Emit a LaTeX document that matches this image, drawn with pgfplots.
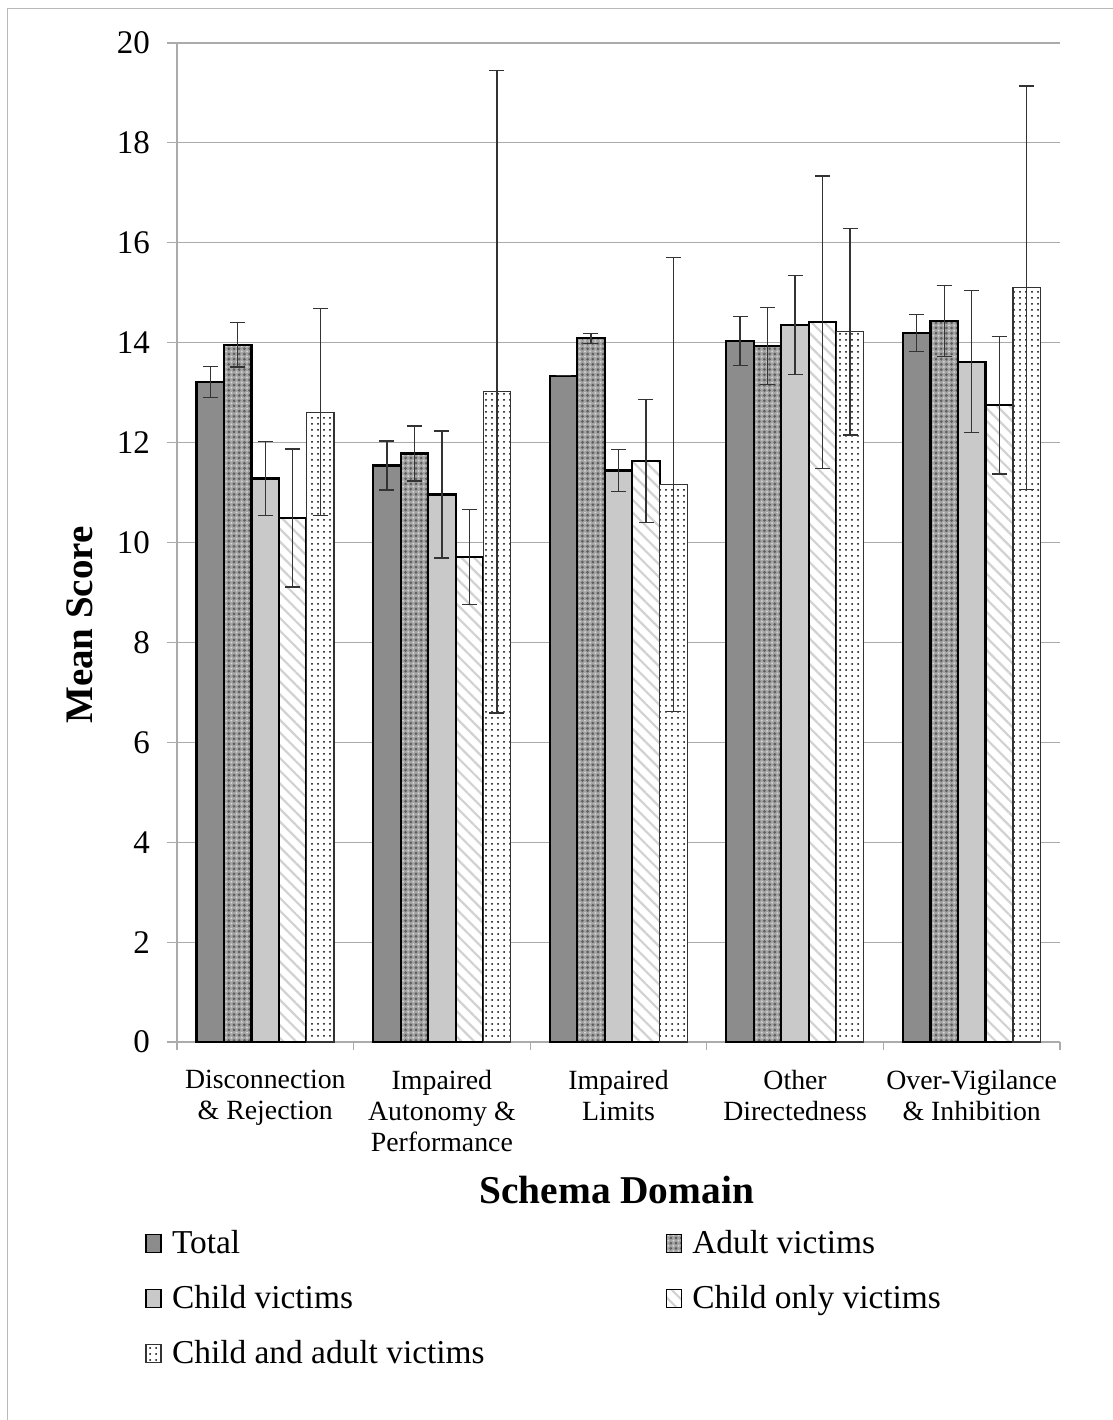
\documentclass[border=0pt]{standalone}
\usepackage{pgfplots}
\pgfplotsset{compat=1.18}
\usetikzlibrary{patterns,patterns.meta}
\usepackage{fontspec}
\setmainfont{Liberation Serif}
\definecolor{cTotal}{HTML}{8C8C8C}
\definecolor{cAdult}{HTML}{A4A4A4}
\definecolor{cAdultDots}{HTML}{5E5E5E}
\definecolor{cAdultLight}{HTML}{D8D8D8}
\definecolor{cChild}{HTML}{C9C9C9}
\definecolor{cStripe}{HTML}{D2D2D2}
\definecolor{cGrid}{HTML}{ABABAB}
\definecolor{cErr}{HTML}{333333}

\pgfplotstableread{
x y e
0 13.21 0.31
1 11.54 0.49
2 13.34 0
3 14.03 0.49
4 14.19 0.37
}\total
\pgfplotstableread{
x y e
0 13.96 0.45
1 11.78 0.55
2 14.09 0.10
3 13.93 0.77
4 14.43 0.71
}\adult
\pgfplotstableread{
x y e
0 11.28 0.74
1 10.96 1.27
2 11.44 0.42
3 14.35 0.99
4 13.62 1.42
}\child
\pgfplotstableread{
x y e
0 10.49 1.38
1 9.71 0.95
2 11.63 1.23
3 14.41 2.93
4 12.75 1.38
}\childonly
\pgfplotstableread{
x y e
0 12.61 2.07
1 13.02 6.43
2 11.16 4.54
3 14.22 2.07
4 15.10 4.04
}\childadult

\begin{document}
\begin{tikzpicture}
\useasboundingbox (-88.5pt,-189pt) rectangle (468pt,521pt);
\draw[gray!55, line width=0.5pt] (-84.75pt,-189pt) -- (-84.75pt,516.65pt) -- (468pt,516.65pt);
\begin{axis}[
  scale only axis, width=441.5pt, height=499.5pt,
  xmin=-0.5, xmax=4.5, ymin=0, ymax=20,
  ybar=0pt, bar width=13.75pt,
  axis lines*=left,
  axis line style={draw=cGrid, line width=0.6pt, -},
  ymajorgrids, grid style={draw=cGrid, line width=0.6pt},
  ytick={0,2,...,20},
  xtick={0,...,4},
  xticklabels={{Disconnection\\\& Rejection},{Impaired\\Autonomy \&\\Performance},{Impaired\\Limits},{Other\\Directedness},{Over-Vigilance\\\& Inhibition}},
  minor xtick={-0.5,0.5,...,4.5},
  tick align=outside,
  major tick length=5pt, minor tick length=4pt,
  tick style={draw=cGrid, line width=0.6pt},
  major x tick style={draw=none},
  /pgf/number format/assume math mode=true,
  yticklabel style={font=\fontsize{16.5}{19}\selectfont, xshift=-5pt},
  xticklabel style={font=\fontsize{13.9}{15.6}\selectfont, align=center, yshift=-5.5pt},
  xlabel={Schema Domain}, ylabel={Mean Score},
  xlabel style={font=\fontsize{19.7}{23}\selectfont\bfseries, at={(rel axis cs:0.498,-0.148)}, anchor=center},
  ylabel style={font=\fontsize{19.5}{23}\selectfont\bfseries, at={(rel axis cs:-0.1099,0.4174)}, anchor=center, rotate=0},
  legend columns=2,
  legend style={at={(rel axis cs:-0.0362,-0.184)}, anchor=north west, draw=none, fill=none,
    font=\fontsize{16.7}{20}\selectfont, inner sep=0pt, row sep=10.5pt,
    /tikz/column 2/.style={column sep=88.5pt}},
  legend cell align=left,
  legend image code/.code={\draw[#1, line width=0.6pt] (0pt,-4.5pt) rectangle (7.5pt,4.5pt);\pgfpathmoveto{\pgfqpoint{11pt}{0pt}}\pgfusepath{discard}},
  error bars/error bar style={line width=0.7pt, draw=cErr},
  error bars/error mark options={rotate=90, mark size=3.75pt, line width=0.7pt, draw=cErr},
]
\addplot+[draw=black, line width=1.1pt, fill=cTotal,
  error bars/.cd, y dir=both, y explicit] table[x=x, y=y, y error=e] {\total};
\addlegendentry{Total}
\addplot+[draw=black, line width=1.1pt, fill=cAdult,
  postaction={pattern={Dots[distance=2.6pt, radius=0.75pt]}, pattern color=cAdultDots},
  postaction={pattern={Dots[distance=2.6pt, radius=0.5pt, xshift=1.3pt, yshift=1.3pt]}, pattern color=cAdultLight},
  error bars/.cd, y dir=both, y explicit] table[x=x, y=y, y error=e] {\adult};
\addlegendentry{Adult victims}
\addplot+[draw=black, line width=1.1pt, fill=cChild,
  error bars/.cd, y dir=both, y explicit] table[x=x, y=y, y error=e] {\child};
\addlegendentry{Child victims}
\addplot+[draw=black, line width=1.1pt, fill=white,
  postaction={pattern={Lines[angle=-45, distance=4.5pt, line width=1.1pt]}, pattern color=cStripe},
  error bars/.cd, y dir=both, y explicit] table[x=x, y=y, y error=e] {\childonly};
\addlegendentry{Child only victims}
\addplot+[draw=black!80, line width=0.6pt, fill=white,
  postaction={pattern={Dots[distance=3pt, radius=0.5pt]}, pattern color=black},
  error bars/.cd, y dir=both, y explicit] table[x=x, y=y, y error=e] {\childadult};
\addlegendentry{Child and adult victims}
\end{axis}
\end{tikzpicture}
\end{document}
